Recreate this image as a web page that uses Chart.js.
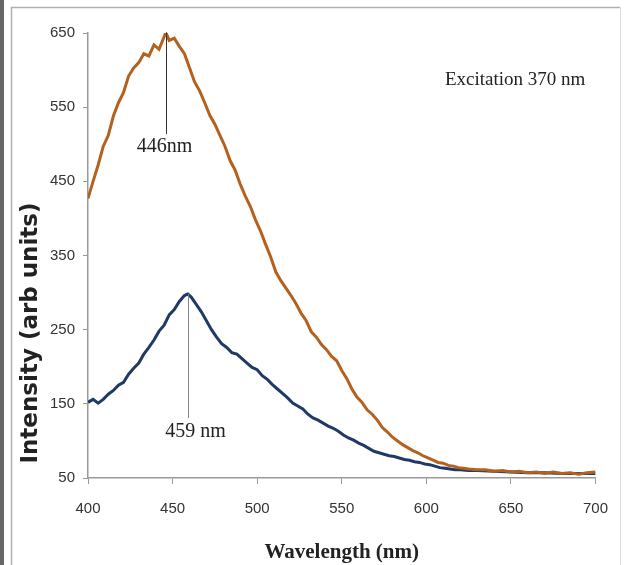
<!DOCTYPE html>
<html><head><meta charset="utf-8">
<script src="https://cdn.jsdelivr.net/npm/chart.js@4/dist/chart.umd.min.js"></script>
<style>html,body{margin:0;padding:0;background:#fff;}#wrap{width:624px;height:565px;}</style>
</head><body><div id="wrap"><canvas id="c" width="624" height="565"></canvas></div>
<script>
const orangeX=[400,403,406,409,412,415,418,421,424,427,430,433,436,439,442,445,446,448,451,454,457,460,463,466,469,472,475,478,481,484,487,490,493,496,499,502,505,508,511,514,517,520,523,526,529,532,535,538,541,544,547,550,553,556,559,562,565,568,571,574,577,580,583,586,589,592,595,598,601,604,607,610,613,616,619,622,625,630,635,640,645,650,655,660,665,670,675,680,685,690,695,700];
const orangeY=[427,450,472,497,512,538,556,570,592,603,610,622,619,634,628,645,651,640,643,632,622,603,584,572,556,539,527,512,497,478,465,446,430,416,398,383,365,348,328,316,306,296,285,272,262,247,240,230,223,214,208,195,184,170,159,152,142,136,128,118,112,105,100,95,91,87,84,80,77,74,71,70,67,66,64,63,62,61,61,59,60,58,59,57,58,56,58,56,57,55,57,58];
const blueX=[400,403,406,409,412,415,418,421,424,427,430,433,436,439,442,445,448,451,454,457,459,461,464,467,470,473,476,479,482,485,488,491,494,497,500,503,506,509,512,515,518,521,524,527,530,533,536,539,542,545,548,551,554,557,560,563,566,569,572,575,578,581,584,587,590,593,596,599,602,605,608,611,614,617,620,625,630,640,650,660,670,680,690,700];
const blueY=[152,156,151,156,163,168,175,179,190,198,205,217,226,236,248,256,270,277,288,296,298,294,284,274,262,250,240,231,226,219,217,211,205,199,196,188,183,176,170,164,158,151,147,143,136,131,128,124,120,117,113,108,104,101,97,94,90,86,84,82,80,79,77,75,74,72,71,69,68,66,64,63,62,61,61,60,60,59,58,57,57,56,56,56];
const xTicks=[400,450,500,550,600,650,700];
const yTicks=[50,150,250,350,450,550,650];
const peaks=[{x:446,y:651,label:'446nm',color:'#333'},{x:459,y:298,label:'459 nm',color:'#888'}];
const noteText='Excitation 370 nm';
const xTitle='Wavelength (nm)';
const yTitle='Intensity (arb units)';

const pts=(xs,ys)=>xs.map((x,i)=>({x:x,y:ys[i]}));

const deco={id:'deco',
 beforeDraw(ch){const c=ch.ctx;c.save();
  c.fillStyle='#fff';c.fillRect(0,0,624,565);
  c.fillStyle='#666';c.fillRect(0,0,4,565);
  c.strokeStyle='#b0b0b0';c.lineWidth=1.5;
  c.beginPath();c.moveTo(11.5,565);c.lineTo(11.5,7.5);c.lineTo(620,7.5);c.stroke();
  c.strokeStyle='#ddd';c.lineWidth=1;c.beginPath();c.moveTo(620.5,7.5);c.lineTo(620.5,565);c.stroke();
  c.restore();},
 afterDatasetsDraw(ch){const c=ch.ctx,xs=ch.scales.x,ys=ch.scales.y;c.save();
  c.font='20px "Liberation Serif", serif';c.fillStyle='#222';c.textAlign='center';c.textBaseline='middle';
  let p=peaks[0];let px=Math.round(xs.getPixelForValue(p.x))+0.5;
  c.strokeStyle=p.color;c.lineWidth=1;c.beginPath();c.moveTo(px,ys.getPixelForValue(p.y));c.lineTo(px,134);c.stroke();
  c.fillText(p.label,px-2,147);
  p=peaks[1];px=Math.round(xs.getPixelForValue(p.x))+0.5;
  c.strokeStyle=p.color;c.beginPath();c.moveTo(px,ys.getPixelForValue(p.y));c.lineTo(px,418);c.stroke();
  c.fillText(p.label,px+7,432);
  c.font='19px "Liberation Serif", serif';
  c.textAlign='left';c.fillText(noteText,445,80);
  c.translate(31,333);c.rotate(-Math.PI/2);
  c.font='bold 23px "DejaVu Sans", sans-serif';c.fillStyle='#222';c.textAlign='center';
  c.fillText(yTitle,0,0);
  c.restore();}
};

new Chart(document.getElementById('c'),{
 type:'scatter',
 data:{datasets:[
  {data:pts(orangeX,orangeY),showLine:true,borderColor:'#b4601f',borderWidth:3,pointRadius:0,tension:0},
  {data:pts(blueX,blueY),showLine:true,borderColor:'#203a68',borderWidth:3,pointRadius:0,tension:0}
 ]},
 plugins:[deco],
 options:{responsive:false,animation:false,
  layout:{padding:{left:14,right:18,top:33,bottom:0}},
  plugins:{legend:{display:false},tooltip:{enabled:false}},
  scales:{
   x:{type:'linear',min:400,max:700,
     afterBuildTicks(s){s.ticks=xTicks.map(v=>({value:v}));},
     afterFit(s){s.height=87;},
     grid:{drawOnChartArea:false,drawTicks:true,tickLength:6,color:'#999'},
     border:{color:'#999',width:1.5},
     ticks:{color:'#333',padding:16,maxRotation:0,font:{family:'"Liberation Sans",sans-serif',size:15}},
     title:{display:true,text:xTitle,color:'#222',padding:{top:1,bottom:0},font:{family:'"Liberation Serif",serif',size:21,weight:'bold'}}},
   y:{type:'linear',min:50,max:650,
     afterBuildTicks(s){s.ticks=yTicks.map(v=>({value:v}));},
     afterFit(s){s.width=74;},
     grid:{drawOnChartArea:false,drawTicks:true,tickLength:5,color:'#999'},
     border:{color:'#999',width:1.5},
     ticks:{color:'#333',padding:8,font:{family:'"Liberation Sans",sans-serif',size:15}},
     title:{display:false}}
  }}
});
</script></body></html>
